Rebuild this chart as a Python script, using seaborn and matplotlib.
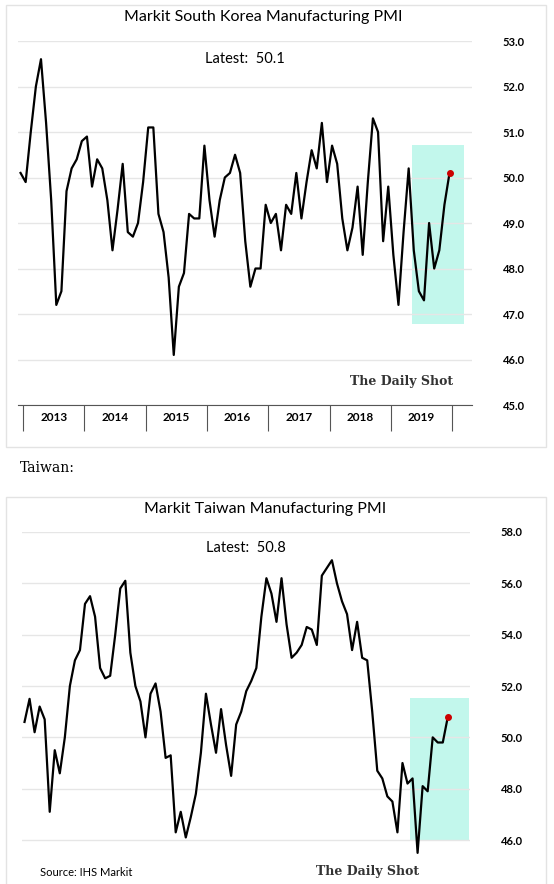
import matplotlib
matplotlib.use("Agg")
import matplotlib.pyplot as plt
import matplotlib.patches as mpatches
import seaborn as sns
import pandas as pd
import numpy as np

# Korea PMI, monthly (Dec 2012 .. Dec 2019)
korea = [50.1, 49.9, 51.0, 52.0, 52.6, 51.2, 49.5, 47.2, 47.5, 49.7, 50.2, 50.4,
         50.8, 50.9, 49.8, 50.4, 50.2, 49.5, 48.4, 49.3, 50.3, 48.8, 48.7, 49.0,
         49.9, 51.1, 51.1, 49.2, 48.8, 47.8, 46.1, 47.6, 47.9, 49.2, 49.1, 49.1,
         50.7, 49.5, 48.7, 49.5, 50.0, 50.1, 50.5, 50.1, 48.6, 47.6, 48.0, 48.0,
         49.4, 49.0, 49.2, 48.4, 49.4, 49.2, 50.1, 49.1, 49.9, 50.6, 50.2, 51.2,
         49.9, 50.7, 50.3, 49.1, 48.4, 48.9, 49.8, 48.3, 49.9, 51.3, 51.0, 48.6,
         49.8, 48.3, 47.2, 48.8, 50.2, 48.4, 47.5, 47.3, 49.0, 48.0, 48.4, 49.4, 50.1]
taiwan = [50.6, 51.5, 50.2, 51.2, 50.7, 47.1, 49.5, 48.6, 50.0, 52.0, 53.0, 53.4,
          55.2, 55.5, 54.7, 52.7, 52.3, 52.4, 54.0, 55.8, 56.1, 53.3, 52.0, 51.4,
          50.0, 51.7, 52.1, 51.0, 49.2, 49.3, 46.3, 47.1, 46.1, 46.9, 47.8, 49.4,
          51.7, 50.5, 49.4, 51.1, 49.7, 48.5, 50.5, 51.0, 51.8, 52.2, 52.7, 54.7,
          56.2, 55.6, 54.5, 56.2, 54.4, 53.1, 53.3, 53.6, 54.3, 54.2, 53.6, 56.3,
          56.6, 56.9, 56.0, 55.3, 54.8, 53.4, 54.5, 53.1, 53.0, 51.0, 48.7, 48.4,
          47.7, 47.5, 46.3, 49.0, 48.2, 48.4, 45.5, 48.1, 47.9, 50.0, 49.8, 49.8, 50.8]
years = ["2013", "2014", "2015", "2016", "2017", "2018", "2019"]

W, H = 554, 884
fig = plt.figure(figsize=(W / 100, H / 100), dpi=100)
plt.rcParams['font.family'] = ['Lato', 'DejaVu Sans']


def px(x0, y0, x1, y1):
    return [x0 / W, 1 - y1 / H, (x1 - x0) / W, (y1 - y0) / H]


# panel frames
for (y0, y1) in [(5, 447), (497, 890)]:
    fig.patches.append(mpatches.Rectangle((6 / W, 1 - y1 / H), 540 / W, (y1 - y0) / H,
                                          transform=fig.transFigure, fill=False,
                                          edgecolor="#e3e3e3", lw=1))


def panel(ax, vals, ylo, yhi, ticks, box, latest):
    df = pd.DataFrame({"i": np.arange(len(vals)), "v": vals})
    ax.add_patch(mpatches.Rectangle((box[0], box[2]), box[1] - box[0], box[3] - box[2],
                                    facecolor="#c2f7ec", edgecolor="none", zorder=0))
    sns.lineplot(data=df, x="i", y="v", ax=ax, color="black", lw=1.6, zorder=3)
    ax.plot(df["i"].iloc[-1], df["v"].iloc[-1], "o", color="#cc0000", ms=4, zorder=4)
    ax.set_ylim(ylo, yhi)
    ax.set_xlim(-0.5, 88.4)
    ax.set_yticks(ticks)
    ax.set_yticklabels([f"{t:.1f}" for t in ticks], fontweight="bold", fontsize=8)
    ax.yaxis.tick_right()
    ax.tick_params(axis="y", length=0, pad=22)
    ax.grid(axis="y", color="#e6e6e6", lw=1)
    ax.set_axisbelow(True)
    for s in ax.spines.values():
        s.set_visible(False)
    ax.set_xlabel("")
    ax.set_ylabel("")
    ax.text(0.5, 0.95, f"Latest:  {latest}", transform=ax.transAxes, ha="center",
            va="center", fontsize=10.5,
            bbox=dict(facecolor="white", edgecolor="none", boxstyle="square,pad=0.3"))


# Korea
ax1 = fig.add_axes(px(18, 41, 472, 405))
panel(ax1, korea, 45, 53, list(range(45, 54)), (76.7, 86.9, 46.78, 50.72), "50.1")
ax1.spines["bottom"].set_visible(True)
ax1.spines["bottom"].set_color("#555555")
ax1.set_xticks([0.5 + 12 * k for k in range(8)])
ax1.set_xticklabels([])
ax1.set_xticks([6.5 + 12 * k for k in range(7)], minor=True)
ax1.set_xticklabels(years, minor=True, fontweight="bold", fontsize=8.5)
ax1.tick_params(axis="x", which="major", direction="out", length=19, color="#555555")
ax1.tick_params(axis="x", which="minor", length=0, pad=5)
fig.text(263 / W, 1 - 17 / H, "Markit South Korea Manufacturing PMI", ha="center",
         va="center", fontsize=11.5)
fig.text(402 / W, 1 - 381 / H, "The Daily Shot", ha="center", va="center",
         fontsize=9, fontweight="bold", family="DejaVu Serif", color="#333333")

fig.text(20 / W, 1 - 468 / H, "Taiwan:", ha="left", va="center", fontsize=10,
         family="DejaVu Serif")

# Taiwan
ax2 = fig.add_axes(px(22, 532, 470, 858))
panel(ax2, taiwan, 58 - 326 / 25.67, 58, list(range(46, 59, 2)),
      (76.5, 88.3, 46.0, 51.55), "50.8")
ax2.set_xticks([])
fig.text(265 / W, 1 - 509 / H, "Markit Taiwan Manufacturing PMI", ha="center",
         va="center", fontsize=11.5)
fig.text(40 / W, 1 - 873 / H, "Source: IHS Markit", ha="left", va="center", fontsize=8)
fig.text(368 / W, 1 - 872 / H, "The Daily Shot", ha="center", va="center",
         fontsize=9, fontweight="bold", family="DejaVu Serif", color="#333333")

fig.savefig("out.png", dpi=100)
